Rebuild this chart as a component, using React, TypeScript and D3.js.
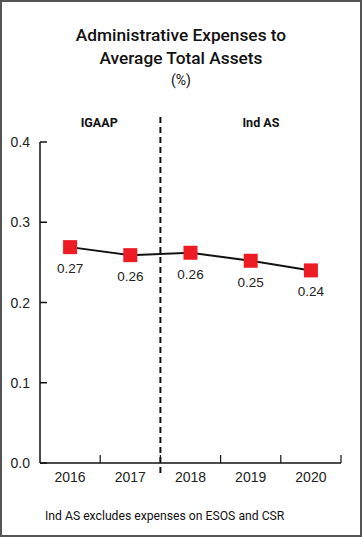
import React, { useEffect } from "react";
import { scaleBand, scaleLinear, line, format } from "d3";

const years = ["2016", "2017", "2018", "2019", "2020"];
const ratio = [0.269, 0.259, 0.262, 0.252, 0.24];
const yTicks = [0, 0.1, 0.2, 0.3, 0.4];
const regimes = ["IGAAP", "Ind AS"];

export default function App() {
  const width = 362,
    height = 537,
    marginLeft = 40,
    marginRight = 21,
    marginTop = 142,
    axisY = 463;

  useEffect(() => {
    document.body.style.margin = "0";
  }, []);

  const x = scaleBand()
    .domain(years)
    .range([marginLeft, width - marginRight]);

  const y = scaleLinear().domain([0, 0.4]).range([axisY, marginTop]);

  const path = line<number>()
    .x((d, i) => x(years[i])! + x.bandwidth() / 2)
    .y(d => y(d));

  const splitX = x("2018")!;
  const fmt = format(".2f");
  const sans = "'Liberation Sans', Arial, sans-serif";
  const head = "Roboto, 'Noto Sans', sans-serif";
  // label centres for the two accounting regimes
  const regimeX = [x("2017")! - 1, x("2019")! + x.bandwidth() * 0.67];

  return (
    <svg width={width} height={height} style={{ display: "block" }}>
      <rect
        x={1}
        y={1}
        width={width - 2}
        height={height - 2}
        fill="#fff"
        stroke="#555"
        strokeWidth={2}
      />
      <g textAnchor="middle" fill="#111" fontFamily={head}>
        <text x={width / 2} y={41} fontSize={17.3} fontWeight={500}>
          Administrative Expenses to
        </text>
        <text x={width / 2} y={64} fontSize={17.3} fontWeight={500}>
          Average Total Assets
        </text>
        <text x={width / 2} y={85} fontSize={14}>
          (%)
        </text>
      </g>

      {regimes.map((r, i) => (
        <text
          key={r}
          x={regimeX[i]}
          y={127}
          textAnchor="middle"
          fontFamily={head}
          fontWeight={700}
          fontSize={12.5}
          fill="#111"
        >
          {r}
        </text>
      ))}

      {/* y axis */}
      <line x1={marginLeft} x2={marginLeft} y1={marginTop} y2={axisY} stroke="#111" strokeWidth={1.5} />
      {yTicks.map(t => (
        <g key={t}>
          <line x1={marginLeft} x2={marginLeft + 7} y1={y(t)} y2={y(t)} stroke="#111" strokeWidth={1.5} />
          <text
            x={marginLeft - 10}
            y={y(t) + 5}
            textAnchor="end"
            fontFamily={sans}
            fontSize={14}
            fill="#222"
          >
            {format(".1f")(t)}
          </text>
        </g>
      ))}

      {/* x axis */}
      <line x1={marginLeft} x2={width - marginRight} y1={axisY} y2={axisY} stroke="#111" strokeWidth={1.5} />
      {years.map(yr => (
        <g key={yr}>
          <line
            x1={x(yr)! + x.bandwidth()}
            x2={x(yr)! + x.bandwidth()}
            y1={axisY}
            y2={axisY - 8}
            stroke="#111"
            strokeWidth={1.2}
          />
          <text
            x={x(yr)! + x.bandwidth() / 2}
            y={axisY + 19}
            textAnchor="middle"
            fontFamily={sans}
            fontSize={14}
            fill="#222"
          >
            {yr}
          </text>
        </g>
      ))}

      <line
        x1={splitX}
        x2={splitX}
        y1={117}
        y2={476}
        stroke="#111"
        strokeWidth={2}
        strokeDasharray="6,4"
      />

      <path d={path(ratio)!} fill="none" stroke="#111" strokeWidth={2} />
      {ratio.map((v, i) => {
        const cx = x(years[i])! + x.bandwidth() / 2;
        return (
          <g key={years[i]}>
            <rect x={cx - 7} y={y(v) - 7} width={14} height={14} fill="#ED1C24" />
            <text
              x={cx}
              y={y(v) + 26}
              textAnchor="middle"
              fontFamily={sans}
              fontSize={13.5}
              fill="#222"
            >
              {fmt(v)}
            </text>
          </g>
        );
      })}

      <text x={45} y={520} fontFamily={head} fontSize={12.2} fill="#111">
        Ind AS excludes expenses on ESOS and CSR
      </text>
    </svg>
  );
}
